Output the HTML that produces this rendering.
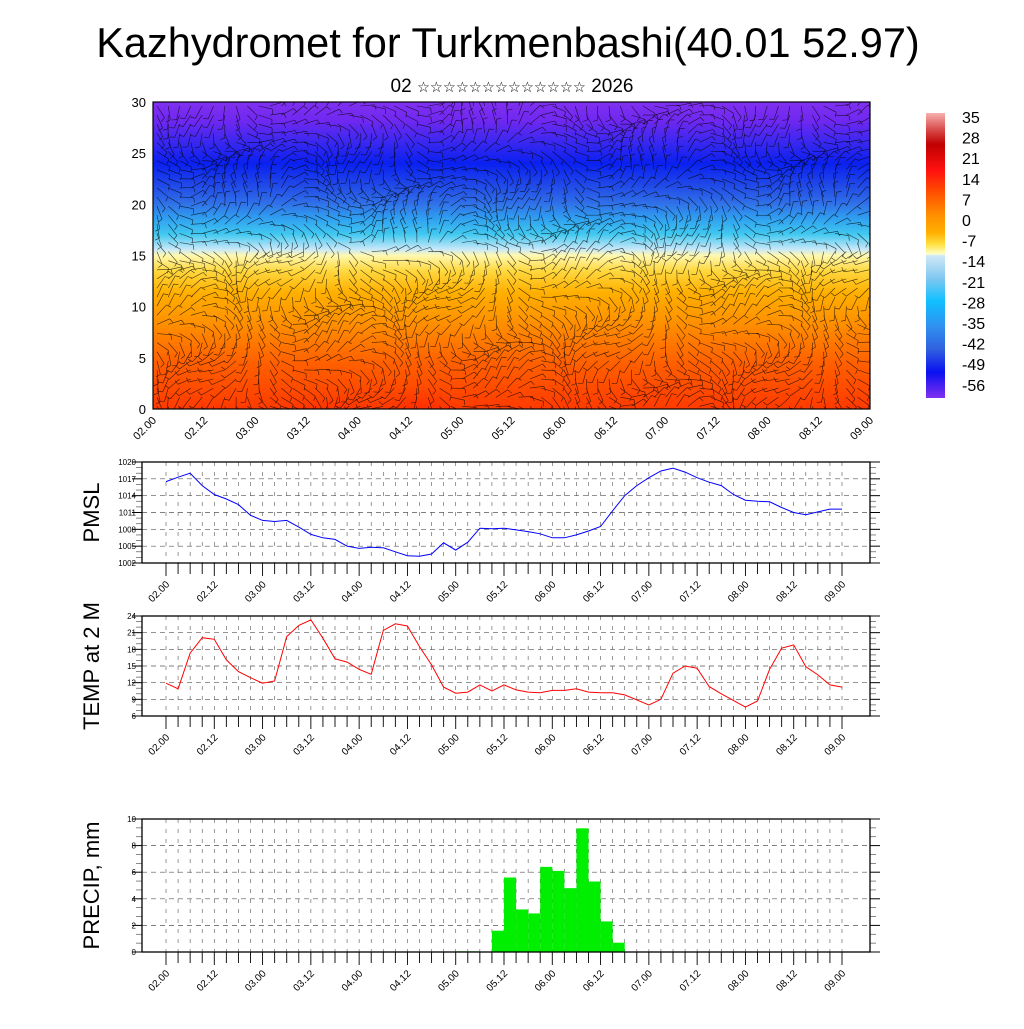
<!DOCTYPE html>
<html><head><meta charset="utf-8">
<style>
html,body{margin:0;padding:0;background:#fff;}
body{width:1024px;height:1024px;overflow:hidden;font-family:"Liberation Sans","DejaVu Sans",sans-serif;}
svg text{font-family:"Liberation Sans","DejaVu Sans",sans-serif;}
</style></head>
<body>
<svg id="root" width="1024" height="1024" viewBox="0 0 1024 1024" xmlns="http://www.w3.org/2000/svg">
<defs>
<linearGradient id="fieldGrad" x1="0" y1="0" x2="0" y2="1">
<stop offset="0" stop-color="#8030f0"/>
<stop offset="0.06" stop-color="#7028f0"/>
<stop offset="0.13" stop-color="#3a28f0"/>
<stop offset="0.2" stop-color="#0a20f0"/>
<stop offset="0.27" stop-color="#2048e8"/>
<stop offset="0.33" stop-color="#3070e8"/>
<stop offset="0.38" stop-color="#30a0f0"/>
<stop offset="0.43" stop-color="#40c8f0"/>
<stop offset="0.48" stop-color="#c8e8f8"/>
<stop offset="0.5" stop-color="#fff8b0"/>
<stop offset="0.55" stop-color="#ffd840"/>
<stop offset="0.62" stop-color="#ffb000"/>
<stop offset="0.72" stop-color="#ff9000"/>
<stop offset="0.85" stop-color="#ff6000"/>
<stop offset="1" stop-color="#ff3a00"/>
</linearGradient>
<radialGradient id="hot" cx="0.5" cy="1" r="0.6">
<stop offset="0" stop-color="#ff0000" stop-opacity="0.95"/>
<stop offset="0.6" stop-color="#ff1000" stop-opacity="0.65"/>
<stop offset="1" stop-color="#ff3000" stop-opacity="0"/>
</radialGradient>
<linearGradient id="cbGrad" x1="0" y1="0" x2="0" y2="1">
<stop offset="0" stop-color="#f8b0b0"/>
<stop offset="0.06" stop-color="#d84848"/>
<stop offset="0.11" stop-color="#c00000"/>
<stop offset="0.2" stop-color="#ff1010"/>
<stop offset="0.28" stop-color="#ff5000"/>
<stop offset="0.36" stop-color="#ff9000"/>
<stop offset="0.42" stop-color="#ffb000"/>
<stop offset="0.46" stop-color="#ffe040"/>
<stop offset="0.495" stop-color="#ffffc8"/>
<stop offset="0.5" stop-color="#d0e8f8"/>
<stop offset="0.58" stop-color="#80c8f0"/>
<stop offset="0.66" stop-color="#10c0ff"/>
<stop offset="0.75" stop-color="#3090f0"/>
<stop offset="0.83" stop-color="#3060e0"/>
<stop offset="0.91" stop-color="#0a10f0"/>
<stop offset="1" stop-color="#8030f0"/>
</linearGradient>
<clipPath id="fieldClip"><rect x="153" y="102" width="717" height="307"/></clipPath>
</defs>
<text x="508" y="57" font-size="41.5" text-anchor="middle">Kazhydromet for Turkmenbashi(40.01 52.97)</text>
<text x="512" y="92" font-size="19" text-anchor="middle">02 <tspan font-size="14.5">☆☆☆☆☆☆☆☆☆☆☆☆☆</tspan> 2026</text>
<g id="field" clip-path="url(#fieldClip)">
<rect x="153" y="102" width="717" height="307" fill="url(#fieldGrad)"/>
<ellipse cx="330" cy="409" rx="100" ry="70" fill="url(#hot)"/>
<ellipse cx="420" cy="400" rx="55" ry="80" fill="url(#hot)"/>
<ellipse cx="220" cy="409" rx="60" ry="35" fill="url(#hot)" opacity="0.6"/>
<ellipse cx="850" cy="409" rx="35" ry="45" fill="url(#hot)" opacity="0.7"/>
<g id="barbs" stroke="#000" stroke-width="0.6" stroke-opacity="0.75" fill="none"></g>
</g>
<rect x="153" y="102" width="717" height="307" fill="none" stroke="#000" stroke-width="1.2"/>
<g id="fieldAxes"></g>
<rect x="926" y="113" width="19" height="285" fill="url(#cbGrad)"/>
<g id="cbLabels"></g>
<g id="panels"></g>
</svg>
<script>
const NS="http://www.w3.org/2000/svg";
// ---- data ----
const timeLabels=["02.00","02.12","03.00","03.12","04.00","04.12","05.00","05.12","06.00","06.12","07.00","07.12","08.00","08.12","09.00"];
const pmslValues=[1016.5,1017.3,1018.0,1015.8,1014.2,1013.4,1012.4,1010.5,1009.6,1009.4,1009.6,1008.4,1007.1,1006.5,1006.2,1005.0,1004.6,1004.8,1004.7,1004.0,1003.3,1003.2,1003.6,1005.6,1004.3,1005.7,1008.2,1008.1,1008.2,1007.9,1007.6,1007.2,1006.5,1006.5,1007.0,1007.7,1008.5,1011.3,1014.0,1015.8,1017.2,1018.4,1018.9,1018.2,1017.2,1016.4,1015.8,1014.2,1013.2,1013.0,1012.9,1011.9,1011.0,1010.6,1011.1,1011.6,1011.6];
const pmslTicks=[1002,1005,1008,1011,1014,1017,1020];
const tempValues=[11.9,10.9,17.3,20.1,19.8,16.1,14.0,12.9,11.9,12.3,20.3,22.3,23.3,20.0,16.3,15.7,14.4,13.5,21.4,22.6,22.2,18.5,15.2,11.2,10.1,10.3,11.6,10.5,11.6,10.7,10.3,10.2,10.6,10.6,10.9,10.3,10.2,10.2,9.8,8.9,8.0,9.0,13.7,15.0,14.6,11.3,10.0,8.8,7.6,8.7,14.4,18.2,18.8,14.9,13.4,11.6,11.2];
const tempTicks=[6,9,12,15,18,21,24];
const precipValues=[0,0,0,0,0,0,0,0,0,0,0,0,0,0,0,0,0,0,0,0,0,0,0,0,0.05,0.05,0,1.6,5.6,3.2,2.9,6.4,6.1,4.8,9.3,5.3,2.3,0.7,0,0,0,0,0,0,0,0,0,0,0,0,0,0,0,0,0,0];
const precipTicks=[0,2,4,6,8,10];
const heightTicks=[0,5,10,15,20,25,30];
const cbLabels=["35","28","21","14","7","0","-7","-14","-21","-28","-35","-42","-49","-56"];

function el(tag,attrs,parent,txt){const e=document.createElementNS(NS,tag);for(const k in attrs)e.setAttribute(k,attrs[k]);if(txt!==undefined)e.textContent=txt;parent.appendChild(e);return e;}
const root=document.getElementById('root');
const panels=document.getElementById('panels');

// ---- field axes ----
const fa=document.getElementById('fieldAxes');
const fx0=153,fx1=870,fy0=102,fy1=409;
heightTicks.forEach(v=>{
  const y=fy1-(v/30)*(fy1-fy0);
  const t=el('text',{x:146,y:y+5,'font-size':13,'text-anchor':'end'},fa,String(v));
  
  
});
timeLabels.forEach((l,i)=>{
  const x=fx0+i*(fx1-fx0)/14;
  const t=el('text',{x:x+4,y:421,'font-size':11,'text-anchor':'end',transform:`rotate(-45 ${x+4} 421)`},fa,l);
  
  
});
// decorative wind barbs
const bg=document.getElementById('barbs');
let d="";
for(let gx=0;gx<64;gx++){for(let gy=0;gy<34;gy++){
  const x=fx0+4+gx*11.3, y=fy0+4+gy*9.1;
  const a=Math.sin(gx*0.37+gy*0.21)*1.2+Math.cos(gy*0.45-gx*0.13)*0.9+(gy<16?0.1:0.9);
  const L=14;
  const x2=x+Math.cos(a)*L,y2=y+Math.sin(a)*L;
  d+=`M${x.toFixed(1)} ${y.toFixed(1)}L${x2.toFixed(1)} ${y2.toFixed(1)}`;
  const bx=x2+Math.cos(a+1.3)*5,by=y2+Math.sin(a+1.3)*5;
  d+=`M${x2.toFixed(1)} ${y2.toFixed(1)}L${bx.toFixed(1)} ${by.toFixed(1)}`;
}}
el('path',{d:d},bg);
// colorbar labels
const cb=document.getElementById('cbLabels');
cbLabels.forEach((l,i)=>{
  const t=el('text',{x:962,y:123+i*20.6,'font-size':16},cb,l);
  
  
});

// ---- panels ----
const px0=142,px1=870,tx0=166,tx1=842,N=56;
const xs=i=>tx0+i*(tx1-tx0)/N;
function panel(name,top,bot,ticks,title,titleX){
  const g=el('g',{},panels);
  
  
  const mn=ticks[0],mx=ticks[ticks.length-1];
  const ys=v=>bot-(v-mn)/(mx-mn)*(bot-top);
  for(let i=0;i<=N;i++){
    el('line',{x1:xs(i),x2:xs(i),y1:top,y2:bot,stroke:'#555','stroke-width':0.6,'stroke-dasharray':'4 6'},g);
    el('line',{x1:xs(i),x2:xs(i),y1:bot,y2:bot+(i%4==0?13:11),stroke:'#000','stroke-width':0.9},g);
  }
  ticks.forEach((v,k)=>{
    const y=ys(v);
    if(k>0&&k<ticks.length-1)el('line',{x1:px0,x2:px1,y1:y,y2:y,stroke:'#555','stroke-width':0.7,'stroke-dasharray':'5 4'},g);
    el('line',{x1:px0,x2:px0-10,y1:y,y2:y,stroke:'#000','stroke-width':1},g);
    el('line',{x1:px1,x2:px1+10,y1:y,y2:y,stroke:'#000','stroke-width':1},g);
    const t=el('text',{x:px0-6,y:y+3,'font-size':8,'text-anchor':'end'},g,String(v));
    
    
    if(k<ticks.length-1){for(let m=1;m<3;m++){const ym=y-(bot-top)/(ticks.length-1)*m/3;
      el('line',{x1:px0,x2:px0-6,y1:ym,y2:ym,stroke:'#555','stroke-width':0.7},g);
      el('line',{x1:px1,x2:px1+6,y1:ym,y2:ym,stroke:'#555','stroke-width':0.7},g);}}
  });
  timeLabels.forEach((l,i)=>{
    const x=xs(i*4);
    const t=el('text',{x:x+4,y:bot+22,'font-size':10,'text-anchor':'end',transform:`rotate(-45 ${x+4} ${bot+22})`},g,l);
    
    
  });
  const tt=el('text',{x:titleX,y:(top+bot)/2,'font-size':22,'text-anchor':'middle',transform:`rotate(-90 ${titleX} ${(top+bot)/2})`},g,title);
  
  
  return {g,ys};
}
function frame(g,top,bot,name){
  const r=el('rect',{x:px0,y:top,width:px1-px0,height:bot-top,fill:'none',stroke:'#000','stroke-width':1.3},g);
  
  
}
{const p=panel('pmsl',462,563,pmslTicks,'PMSL',99);
 const pts=pmslValues.map((v,i)=>xs(i).toFixed(1)+','+p.ys(v).toFixed(1)).join(' ');
 const l=el('polyline',{points:pts,fill:'none',stroke:'#0000ff','stroke-width':1},p.g);
 
 
 frame(p.g,462,563,'pmsl');}
{const p=panel('temp',616,716,tempTicks,'TEMP at 2 M',99);
 const pts=tempValues.map((v,i)=>xs(i).toFixed(1)+','+p.ys(v).toFixed(1)).join(' ');
 const l=el('polyline',{points:pts,fill:'none',stroke:'#ff0000','stroke-width':1},p.g);
 
 
 frame(p.g,616,716,'temp');}
{const p=panel('precip',819,952,precipTicks,'PRECIP, mm',99);
 precipValues.forEach((v,i)=>{
   if(v<=0)return;
   const b=el('rect',{x:xs(i),y:p.ys(v),width:xs(i+1)-xs(i),height:952-p.ys(v),fill:'#00ee00'},p.g);
   
   
 });
 frame(p.g,819,952,'precip');}
</script>
</body></html>
